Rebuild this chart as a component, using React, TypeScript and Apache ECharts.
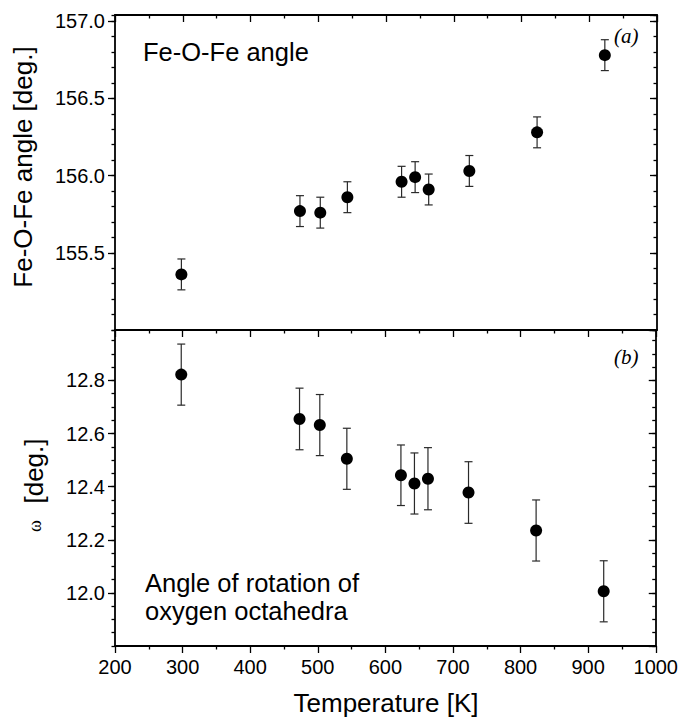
import React, { useEffect, useRef } from "react";
import * as echarts from "echarts";

const temps = [298, 473, 503, 543, 623, 643, 663, 723, 823, 923];
const angle = [155.36, 155.77, 155.76, 155.86, 155.96, 155.99, 155.91, 156.03, 156.28, 156.78];
const angleErr = [0.1, 0.1, 0.1, 0.1, 0.1, 0.1, 0.1, 0.1, 0.1, 0.1];
const omega = [12.822, 12.655, 12.632, 12.505, 12.443, 12.412, 12.43, 12.378, 12.235, 12.006];
const omegaErr = [0.115, 0.116, 0.115, 0.115, 0.114, 0.115, 0.117, 0.116, 0.115, 0.115];

const xTicksMajor = 100;
const topMajor = 0.5;
const topMinor = 0.1;
const botMajor = 0.2;
const botMinor = 0.05;

const SANS = "'Liberation Sans', Arial, sans-serif";
const SERIF = "'Liberation Serif', 'Times New Roman', serif";

const GL = 115;
const GW = 542;

export default function App() {
  const ref = useRef<HTMLDivElement>(null);
  useEffect(() => {
    if (!ref.current) return;
    const chart = echarts.init(ref.current, undefined, { renderer: "svg" });
    const line = { lineStyle: { color: "#000", width: 1.8 } };
    const noSplit = { show: false };

    const xBase = (grid: number, pos: "top" | "bottom", ticks: boolean, inside: boolean, labels: boolean) => ({
      type: "value",
      gridIndex: grid,
      position: pos,
      min: 200,
      max: 1000,
      interval: xTicksMajor,
      axisLine: { show: true, onZero: false, ...line },
      axisTick: { show: ticks, inside, length: 7, lineStyle: { color: "#000", width: 1.3 } },
      minorTick: { show: ticks, splitNumber: 2, length: 3.5, lineStyle: { color: "#000", width: 1.3 } },
      axisLabel: {
        show: labels,
        color: "#000",
        fontSize: 20,
        fontFamily: SANS,
        margin: 11,
        formatter: (v: number) => String(v),
      },
      splitLine: noSplit,
    });

    const yBase = (
      grid: number,
      pos: "left" | "right",
      min: number,
      max: number,
      interval: number,
      len: number,
      inside: boolean,
      labels: boolean,
      showLine: boolean
    ) => ({
      type: "value",
      gridIndex: grid,
      position: pos,
      min,
      max,
      interval,
      axisLine: { show: showLine, onZero: false, ...line },
      axisTick: { show: true, inside, length: len, lineStyle: { color: "#000", width: 1.3 } },
      axisLabel: {
        show: labels,
        color: "#000",
        fontSize: 20,
        fontFamily: SANS,
        margin: 10,
        showMinLabel: false,
        showMaxLabel: false,
        formatter: (v: number) => v.toFixed(1),
      },
      splitLine: noSplit,
    });

    const errSeries = (xi: number, yi: number, xs: number[], ys: number[], es: number[]) => ({
      type: "custom",
      xAxisIndex: xi,
      yAxisIndex: yi,
      silent: true,
      z: 1,
      encode: { x: 0, y: [1, 2] },
      data: xs.map((x, i) => [x, ys[i] - es[i], ys[i] + es[i]]),
      renderItem: (params: any, api: any) => {
        const x = api.value(0);
        const lo = api.coord([x, api.value(1)]);
        const hi = api.coord([x, api.value(2)]);
        const w = 4;
        const st = { stroke: "#2a2a2a", lineWidth: 1.2 };
        return {
          type: "group",
          children: [
            { type: "line", shape: { x1: lo[0], y1: lo[1], x2: hi[0], y2: hi[1] }, style: st },
            { type: "line", shape: { x1: lo[0] - w, y1: lo[1], x2: lo[0] + w, y2: lo[1] }, style: st },
            { type: "line", shape: { x1: hi[0] - w, y1: hi[1], x2: hi[0] + w, y2: hi[1] }, style: st },
          ],
        };
      },
    });

    const scatter = (xi: number, yi: number, ys: number[]) => ({
      type: "scatter",
      xAxisIndex: xi,
      yAxisIndex: yi,
      symbol: "circle",
      symbolSize: 12,
      itemStyle: { color: "#000", opacity: 1 },
      z: 3,
      data: temps.map((t, i) => [t, ys[i]]),
    });

    const option: any = {
      animation: false,
      backgroundColor: "#fff",
      grid: [
        { left: GL, top: 15, width: GW, height: 315 },
        { left: GL, top: 330, width: GW, height: 316 },
      ],
      xAxis: [
        xBase(0, "bottom", false, false, false),
        xBase(0, "top", true, true, false),
        xBase(1, "bottom", true, false, true),
        xBase(1, "top", true, true, false),
      ],
      yAxis: [
        yBase(0, "left", 155.0, 157.04, topMajor, 7, false, true, true),
        yBase(0, "left", 155.0, 157.04, topMinor, 3.5, false, false, false),
        yBase(0, "right", 155.0, 157.04, topMajor, 7, true, false, true),
        yBase(0, "right", 155.0, 157.04, topMinor, 3.5, true, false, false),
        yBase(1, "left", 11.8, 12.99, botMajor, 7, false, true, true),
        yBase(1, "left", 11.8, 12.99, botMinor, 3.5, false, false, false),
        yBase(1, "right", 11.8, 12.99, botMajor, 7, true, false, true),
        yBase(1, "right", 11.8, 12.99, botMinor, 3.5, true, false, false),
      ],
      series: [
        errSeries(0, 0, temps, angle, angleErr),
        scatter(0, 0, angle),
        errSeries(2, 4, temps, omega, omegaErr),
        scatter(2, 4, omega),
      ],
      graphic: [
        {
          type: "text",
          x: 23,
          y: 167,
          rotation: Math.PI / 2,
          style: {
            text: "Fe-O-Fe angle [deg.]",
            font: `26px ${SANS}`,
            fill: "#000",
            textAlign: "center",
            textVerticalAlign: "middle",
          },
        },
        {
          type: "text",
          x: 34,
          y: 471,
          rotation: Math.PI / 2,
          style: {
            text: "[deg.]",
            font: `26px ${SANS}`,
            fill: "#000",
            textAlign: "center",
            textVerticalAlign: "middle",
          },
        },
        {
          type: "text",
          x: 35,
          y: 526,
          rotation: Math.PI / 2,
          style: {
            text: "ω",
            font: `18px ${SERIF}`,
            fill: "#000",
            textAlign: "center",
            textVerticalAlign: "middle",
          },
        },
        {
          type: "text",
          x: 386,
          y: 703,
          style: {
            text: "Temperature [K]",
            font: `26px ${SANS}`,
            fill: "#000",
            textAlign: "center",
            textVerticalAlign: "middle",
          },
        },
        {
          type: "text",
          x: 143,
          y: 52,
          style: {
            text: "Fe-O-Fe angle",
            font: `25.5px ${SANS}`,
            fill: "#000",
            textAlign: "left",
            textVerticalAlign: "middle",
          },
        },
        {
          type: "text",
          x: 145,
          y: 597,
          style: {
            text: "Angle of rotation of\noxygen octahedra",
            font: `25.5px ${SANS}`,
            lineHeight: 28,
            fill: "#000",
            textAlign: "left",
            textVerticalAlign: "middle",
          },
        },
        {
          type: "text",
          x: 614,
          y: 36,
          style: {
            text: "(a)",
            font: `italic 21px ${SERIF}`,
            fill: "#000",
            textAlign: "left",
            textVerticalAlign: "middle",
          },
        },
        {
          type: "text",
          x: 614,
          y: 357,
          style: {
            text: "(b)",
            font: `italic 21px ${SERIF}`,
            fill: "#000",
            textAlign: "left",
            textVerticalAlign: "middle",
          },
        },
      ],
    };
    chart.setOption(option);
    return () => chart.dispose();
  }, []);
  return <div ref={ref} style={{ width: 681, height: 717, position: "absolute", left: 0, top: 0 }} />;
}
